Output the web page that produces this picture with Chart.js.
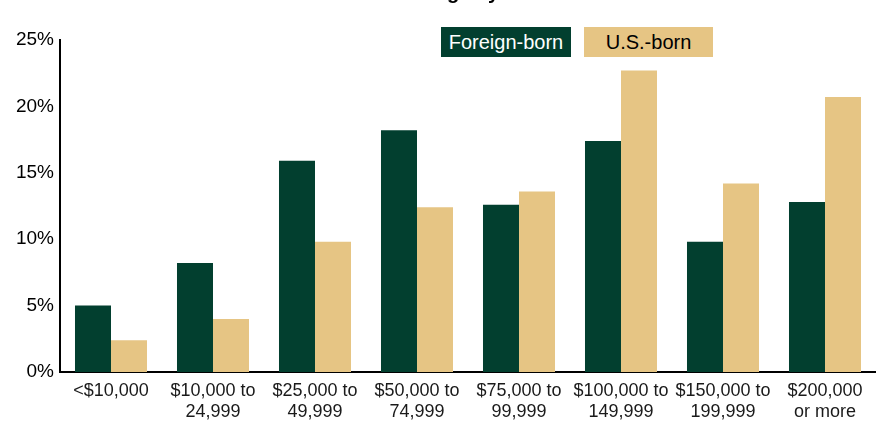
<!DOCTYPE html>
<html>
<head>
<meta charset="utf-8">
<script src="https://cdn.jsdelivr.net/npm/chart.js@4.4.1/dist/chart.umd.min.js"></script>
<style>
  html, body { margin: 0; padding: 0; background: #fff; overflow: hidden; }
  #wrap { position: relative; width: 876px; height: 425px; }
  #title { position: absolute; left: 0; width: 776px; top: -18px; text-align: center; padding-right: 100px;
           font: bold 20px "Liberation Sans", Arial, sans-serif; line-height: 20px; }
  .leg { position: absolute; top: 27px; height: 30px; line-height: 30px; text-align: center; white-space: nowrap;
         font-family: "Liberation Sans", Arial, sans-serif; font-size: 20px; }
</style>
</head>
<body>
<div id="wrap">
  <div id="title">Household Income Range by Birth</div>
  <canvas id="myChart" width="876" height="425"></canvas>
  <div id="legend"></div>
</div>
<script>
var FONT = '"Liberation Sans", Arial, sans-serif';

var categories = [
    ["<$10,000"], ["$10,000 to", "24,999"], ["$25,000 to", "49,999"], ["$50,000 to", "74,999"],
    ["$75,000 to", "99,999"], ["$100,000 to", "149,999"], ["$150,000 to", "199,999"], ["$200,000", "or more"]
];
var foreignBorn = [5.0, 8.2, 15.9, 18.2, 12.6, 17.4, 9.8, 12.8];
var usBorn = [2.4, 4.0, 9.8, 12.4, 13.6, 22.7, 14.2, 20.7];
var seriesNames = ["Foreign-born", "U.S.-born"];
var seriesColors = ["#023F2F", "#E6C584"];
var seriesText = ["#ffffff", "#000000"];

var ctx = document.getElementById("myChart");

var myChart = new Chart(ctx, {
    type: 'bar',
    data: {
        labels: categories,
        datasets: [
            { label: seriesNames[0], data: foreignBorn, backgroundColor: seriesColors[0] },
            { label: seriesNames[1], data: usBorn, backgroundColor: seriesColors[1] }
        ]
    },
    options: {
        responsive: false,
        animation: false,
        layout: { padding: { top: 40, right: 0, left: 0, bottom: 0 } },
        categoryPercentage: 0.706,
        barPercentage: 1.0,
        plugins: { legend: { display: false }, tooltip: { enabled: false } },
        scales: {
            x: {
                grid: { display: false, drawTicks: false },
                border: { color: '#000', width: 2 },
                ticks: { color: '#1a1a1a', padding: 9, maxRotation: 0, autoSkip: false,
                         font: { family: FONT, size: 18, lineHeight: 1.15 } },
                afterFit: function (scale) { scale.height = 53; }
            },
            y: {
                min: 0, max: 25,
                grid: { display: false, drawTicks: false },
                border: { color: '#000', width: 2 },
                ticks: { stepSize: 5, color: '#000', padding: 6,
                         font: { family: FONT, size: 19 },
                         callback: function (v) { return v + '%'; } },
                afterFit: function (scale) { scale.width = 60; }
            }
        }
    }
});

// boxed legend, labels sit inside the colour swatch
var legendBoxes = [{ left: 441, width: 130 }, { left: 584, width: 129 }];
var leg = document.getElementById("legend");
seriesNames.forEach(function (name, i) {
    var d = document.createElement("div");
    d.className = "leg";
    d.style.left = legendBoxes[i].left + "px";
    d.style.width = legendBoxes[i].width + "px";
    d.style.background = seriesColors[i];
    d.style.color = seriesText[i];
    d.textContent = name;
    leg.appendChild(d);
});
</script>
</body>
</html>
